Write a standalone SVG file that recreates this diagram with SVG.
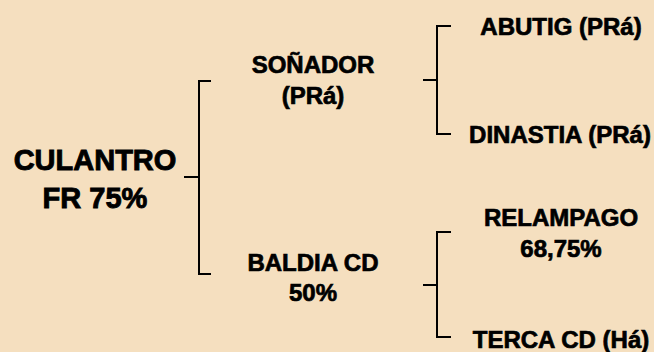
<svg xmlns="http://www.w3.org/2000/svg" width="654" height="352" viewBox="0 0 654 352">
<style>
text{font-family:"Liberation Sans",Arial,sans-serif;font-weight:bold;fill:#000;stroke:#000;stroke-width:0.7;text-anchor:middle}
.root{font-size:29px;stroke-width:0.9}
.n{font-size:24px}
.c{fill:none;stroke:#000;stroke-width:2}
</style>
<rect width="654" height="352" fill="#F5DFBF"/>
<g id="connectors">
<path class="c" d="M211,81 H199 V274 H211 M184,177 H199"/>
<path class="c" d="M451,26 H437 V134 H451 M423,80 H437"/>
<path class="c" d="M451,232 H437 V337 H451 M423,285 H437"/>
</g>
<g id="culantro"><text class="root" x="95" y="170">CULANTRO</text><text class="root" x="95" y="208">FR 75%</text></g>
<g id="sonador"><text class="n" x="313" y="73">SOÑADOR</text><text class="n" x="313" y="104">(PRá)</text></g>
<g id="baldia"><text class="n" x="313" y="271">BALDIA CD</text><text class="n" x="313" y="301">50%</text></g>
<g id="abutig"><text class="n" x="561" y="35">ABUTIG (PRá)</text></g>
<g id="dinastia"><text class="n" x="560" y="143">DINASTIA (PRá)</text></g>
<g id="relampago"><text class="n" x="561" y="226">RELAMPAGO</text><text class="n" x="561" y="257">68,75%</text></g>
<g id="terca"><text class="n" x="561" y="348">TERCA CD (Há)</text></g>
</svg>
